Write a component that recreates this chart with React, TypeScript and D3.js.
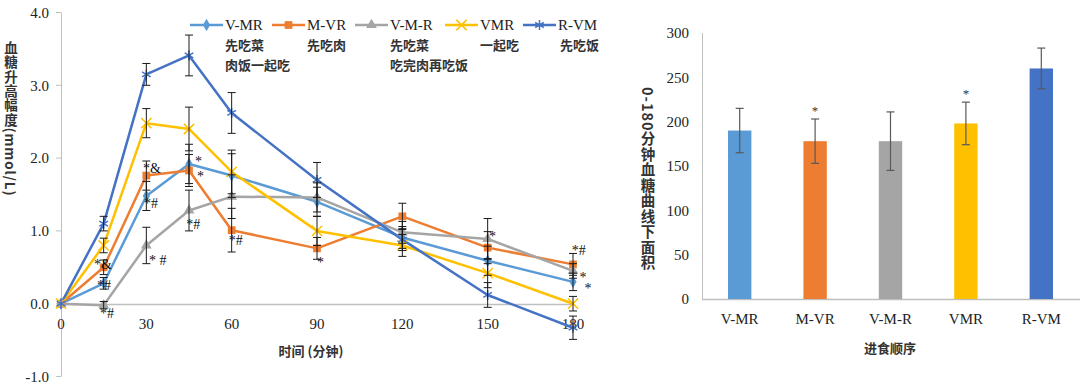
import * as d3 from 'd3';
import { useEffect, useRef } from 'react';

const WIDTH = 1080;
const HEIGHT = 386;

const SERIF = '"Liberation Serif", "Times New Roman", serif';
const CJK = '"Noto Sans CJK SC", "Noto Sans", sans-serif';

// time points (minutes)
const times = [0, 15, 30, 45, 60, 90, 120, 150, 180];

const seriesNames = ['V-MR', 'M-VR', 'V-M-R', 'VMR', 'R-VM'];
const seriesNotes = [['先吃菜', '肉饭一起吃'], ['先吃肉'], ['先吃菜', '吃完肉再吃饭'], ['一起吃'], ['先吃饭']];
const seriesColors = ['#5B9BD5', '#ED7D31', '#A5A5A5', '#FFC000', '#4472C4'];

// blood glucose rise (mmol/L)
const vmrMean = [0, 0.28, 1.48, 1.92, 1.76, 1.4, 0.91, 0.59, 0.3];
const mvrMean = [0, 0.5, 1.76, 1.83, 1.01, 0.76, 1.2, 0.77, 0.54];
const vmrSplitMean = [0, -0.02, 0.8, 1.28, 1.47, 1.46, 0.98, 0.89, 0.45];
const togetherMean = [0, 0.8, 2.48, 2.4, 1.81, 1.0, 0.8, 0.42, 0.0];
const rvmMean = [0, 1.1, 3.15, 3.41, 2.62, 1.7, 0.88, 0.12, -0.33];

const vmrSd = [0, 0.08, 0.2, 0.27, 0.3, 0.2, 0.15, 0.2, 0.12];
const mvrSd = [0, 0.1, 0.2, 0.22, 0.3, 0.15, 0.18, 0.22, 0.15];
const vmrSplitSd = [0, 0.05, 0.25, 0.28, 0.3, 0.2, 0.15, 0.28, 0.1];
const togetherSd = [0, 0.1, 0.2, 0.3, 0.3, 0.2, 0.15, 0.2, 0.1];
const rvmSd = [0, 0.1, 0.15, 0.28, 0.28, 0.24, 0.15, 0.17, 0.16];

const lineMeans = [vmrMean, mvrMean, vmrSplitMean, togetherMean, rvmMean];
const lineSds = [vmrSd, mvrSd, vmrSplitSd, togetherSd, rvmSd];

const yTicksLeft = [-1, 0, 1, 2, 3, 4];
const xTicksLeft = [0, 30, 60, 90, 120, 150, 180];

// significance marks: [time, value at baseline, text]
const marks: [number, number, string][] = [
    [11.6, 0.48, '*&'],
    [12.7, 0.19, '*#'],
    [13.7, -0.2, '*#'],
    [28.8, 1.79, '*&'],
    [29.2, 1.31, '*#'],
    [30.9, 0.53, '* #'],
    [47.1, 1.89, '*'],
    [47.8, 1.69, '*'],
    [44, 1.02, '*#'],
    [59, 0.8, '*#'],
    [90, 0.5, '*'],
    [150.5, 0.86, '*'],
    [179.6, 0.67, '*#'],
    [182.3, 0.3, '*'],
    [184, 0.15, '*'],
];

// AUC 0-180 min
const aucValues = [190, 178, 178, 198, 260];
const aucErrors = [25, 25, 33, 24, 23];
const aucStars = ['', '*', '', '*', ''];
const yTicksRight = [0, 50, 100, 150, 200, 250, 300];

const symbolTypes = [d3.symbolDiamond, d3.symbolSquare, d3.symbolTriangle, d3.symbolX, d3.symbolAsterisk];
const symbolSizes = [45, 60, 50, 70, 70];
const symbolStroked = [false, false, false, true, true];

type Sel = d3.Selection<SVGGElement, unknown, null, undefined>;

// vertical title in one text element: CJK upright, latin turned sideways
function verticalTitle(g: Sel, cx: number, top: number, text: string, fontSize: number, spacing: number) {
    g.append('text')
        .attr('x', cx).attr('y', top)
        .style('writing-mode', 'vertical-rl')
        .style('text-orientation', 'mixed')
        .style('letter-spacing', `${spacing}px`)
        .style('font-family', CJK).style('font-size', `${fontSize}px`).style('font-weight', 'bold')
        .attr('fill', '#333')
        .text(text);
}

const App = () => {
    const svgRef = useRef<SVGSVGElement | null>(null);

    useEffect(() => {
        if (!svgRef.current) return;
        const svg = d3.select(svgRef.current);
        svg.selectAll('*').remove();

        // ---------- left line chart ----------
        const x = d3.scaleLinear().domain([0, 180]).range([61, 573]);
        const y = d3.scaleLinear().domain([-1, 4]).range([376.5, 12.5]);
        const left = svg.append('g');

        left.append('line')
            .attr('x1', x(0) + 0.5).attr('x2', x(0) + 0.5)
            .attr('y1', y(4)).attr('y2', y(-1))
            .attr('stroke', '#BFBFBF');
        left.append('line')
            .attr('x1', x(0)).attr('x2', x(180))
            .attr('y1', Math.round(y(0)) + 0.5).attr('y2', Math.round(y(0)) + 0.5)
            .attr('stroke', '#BFBFBF').attr('stroke-width', 1.5);

        const yt = left.selectAll('.ytick').data(yTicksLeft).join('g')
            .attr('transform', (d) => `translate(0,${y(d)})`);
        yt.append('line').attr('x1', x(0) - 5).attr('x2', x(0)).attr('stroke', '#BFBFBF');
        yt.append('text')
            .attr('x', 49).attr('dy', '0.35em')
            .attr('text-anchor', 'end')
            .style('font-family', SERIF).style('font-size', '15px').attr('fill', '#222')
            .text((d) => d.toFixed(1));

        left.selectAll('.xtick').data(xTicksLeft).join('text')
            .attr('x', (d) => x(d)).attr('y', y(0) + 20)
            .attr('dy', '0.35em').attr('text-anchor', 'middle')
            .style('font-family', SERIF).style('font-size', '15px').attr('fill', '#222')
            .text((d) => d);

        left.append('text')
            .attr('x', 311).attr('y', 356)
            .attr('text-anchor', 'middle')
            .style('font-family', CJK).style('font-size', '13px').style('font-weight', 'bold').attr('fill', '#333')
            .text('时间 (分钟)');

        verticalTitle(left, 11, 41, '血糖升高幅度(mmol/L)', 13.5, 0.9);

        const line = d3.line<number>().x((_, i) => x(times[i])).y((d) => y(d));

        lineMeans.forEach((means, s) => {
            left.append('path')
                .attr('d', line(means))
                .attr('fill', 'none')
                .attr('stroke', seriesColors[s])
                .attr('stroke-width', 2.5)
                .attr('stroke-linejoin', 'round');
        });

        lineMeans.forEach((means, s) => {
            const sym = d3.symbol().type(symbolTypes[s]).size(symbolSizes[s]);
            left.selectAll(`.m${s}`).data(means).join('path')
                .attr('transform', (d, i) => `translate(${x(times[i])},${y(d)})`)
                .attr('d', sym)
                .attr('fill', symbolStroked[s] ? 'none' : seriesColors[s])
                .attr('stroke', seriesColors[s])
                .attr('stroke-width', symbolStroked[s] ? 1.5 : 0);
        });

        lineMeans.forEach((means, s) => {
            const sds = lineSds[s];
            const eb = left.selectAll(`.e${s}`).data(means.map((m, i) => ({ m, sd: sds[i], t: times[i] })).filter((d) => d.sd > 0))
                .join('g')
                .attr('stroke', '#1a1a1a').attr('stroke-width', 1);
            eb.append('line')
                .attr('x1', (d) => x(d.t)).attr('x2', (d) => x(d.t))
                .attr('y1', (d) => y(d.m - d.sd)).attr('y2', (d) => y(d.m + d.sd));
            [-1, 1].forEach((k) => {
                eb.append('line')
                    .attr('x1', (d) => x(d.t) - 4).attr('x2', (d) => x(d.t) + 4)
                    .attr('y1', (d) => y(d.m + k * d.sd)).attr('y2', (d) => y(d.m + k * d.sd));
            });
        });

        left.selectAll('.sig').data(marks).join('text')
            .attr('x', (d) => x(d[0])).attr('y', (d) => y(d[1]))
            .style('font-family', SERIF).style('font-size', '14px').attr('fill', '#111')
            .style('white-space', 'pre')
            .text((d) => d[2]);

        // legend
        const legendX = [190, 272, 355, 445, 523];
        const legend = left.append('g');
        seriesNames.forEach((name, s) => {
            const lx = legendX[s];
            const g = legend.append('g').attr('transform', `translate(${lx},25)`);
            g.append('line').attr('x1', 0).attr('x2', 33).attr('stroke', seriesColors[s]).attr('stroke-width', 2.5);
            g.append('path')
                .attr('transform', 'translate(16.5,0)')
                .attr('d', d3.symbol().type(symbolTypes[s]).size(symbolSizes[s])())
                .attr('fill', symbolStroked[s] ? 'none' : seriesColors[s])
                .attr('stroke', seriesColors[s])
                .attr('stroke-width', symbolStroked[s] ? 1.5 : 0);
            g.append('text')
                .attr('x', 35).attr('dy', '0.35em')
                .style('font-family', SERIF).style('font-size', '15px').attr('fill', '#222')
                .text(name);
            seriesNotes[s].forEach((note, k) => {
                g.append('text')
                    .attr('x', s === 4 ? 37 : 35).attr('y', 20 + k * 20).attr('dy', '0.35em')
                    .style('font-family', CJK).style('font-size', '13px').style('font-weight', 'bold').attr('fill', '#333')
                    .text(note);
            });
        });

        // ---------- right bar chart ----------
        const xb = d3.scaleBand<string>().domain(seriesNames).range([702, 1079]).paddingInner(0.69).paddingOuter(0.345);
        const yb = d3.scaleLinear().domain([0, 300]).range([299, 33]);
        const right = svg.append('g');

        right.append('line')
            .attr('x1', 702.5).attr('x2', 702.5).attr('y1', yb(300)).attr('y2', yb(0))
            .attr('stroke', '#BFBFBF');
        right.append('line')
            .attr('x1', 702).attr('x2', 1080).attr('y1', yb(0) + 0.5).attr('y2', yb(0) + 0.5)
            .attr('stroke', '#BFBFBF').attr('stroke-width', 1.5);

        right.selectAll('.rtick').data(yTicksRight).join('text')
            .attr('x', 689).attr('y', (d) => yb(d)).attr('dy', '0.35em')
            .attr('text-anchor', 'end')
            .style('font-family', SERIF).style('font-size', '15px').attr('fill', '#222')
            .text((d) => d);

        right.selectAll('.bar').data(aucValues).join('rect')
            .attr('x', (_, i) => xb(seriesNames[i])!)
            .attr('width', xb.bandwidth())
            .attr('y', (d) => yb(d))
            .attr('height', (d) => yb(0) - yb(d))
            .attr('fill', (_, i) => seriesColors[i]);

        const cx = (i: number) => xb(seriesNames[i])! + xb.bandwidth() / 2;
        const rb = right.selectAll('.rerr').data(aucValues).join('g')
            .attr('stroke', '#595959').attr('stroke-width', 1.2);
        rb.append('line')
            .attr('x1', (_, i) => cx(i)).attr('x2', (_, i) => cx(i))
            .attr('y1', (d, i) => yb(d - aucErrors[i])).attr('y2', (d, i) => yb(d + aucErrors[i]));
        [-1, 1].forEach((k) => {
            rb.append('line')
                .attr('x1', (_, i) => cx(i) - 4).attr('x2', (_, i) => cx(i) + 4)
                .attr('y1', (d, i) => yb(d + k * aucErrors[i])).attr('y2', (d, i) => yb(d + k * aucErrors[i]));
        });

        right.selectAll('.rstar').data(aucValues).join('text')
            .attr('x', (_, i) => cx(i)).attr('y', (d, i) => yb(d + aucErrors[i]) - 4)
            .attr('text-anchor', 'middle')
            .style('font-family', SERIF).style('font-size', '13px').attr('fill', '#333')
            .text((_, i) => aucStars[i]);

        right.selectAll('.rx').data(seriesNames).join('text')
            .attr('x', (d) => xb(d)! + xb.bandwidth() / 2).attr('y', 319).attr('dy', '0.35em')
            .attr('text-anchor', 'middle')
            .style('font-family', SERIF).style('font-size', '15px').attr('fill', '#222')
            .text((d) => d);

        right.append('text')
            .attr('x', 890).attr('y', 348).attr('dy', '0.35em')
            .attr('text-anchor', 'middle')
            .style('font-family', CJK).style('font-size', '13px').style('font-weight', 'bold').attr('fill', '#333')
            .text('进食顺序');

        verticalTitle(right, 648, 87, '0-180分钟血糖曲线下面积', 14.5, 1.0);
    }, []);

    return (
        <svg
            ref={svgRef}
            width={WIDTH}
            height={HEIGHT}
            style={{ position: 'absolute', left: 0, top: 0, background: '#fff', display: 'block' }}
        ></svg>
    );
};

export default App;
